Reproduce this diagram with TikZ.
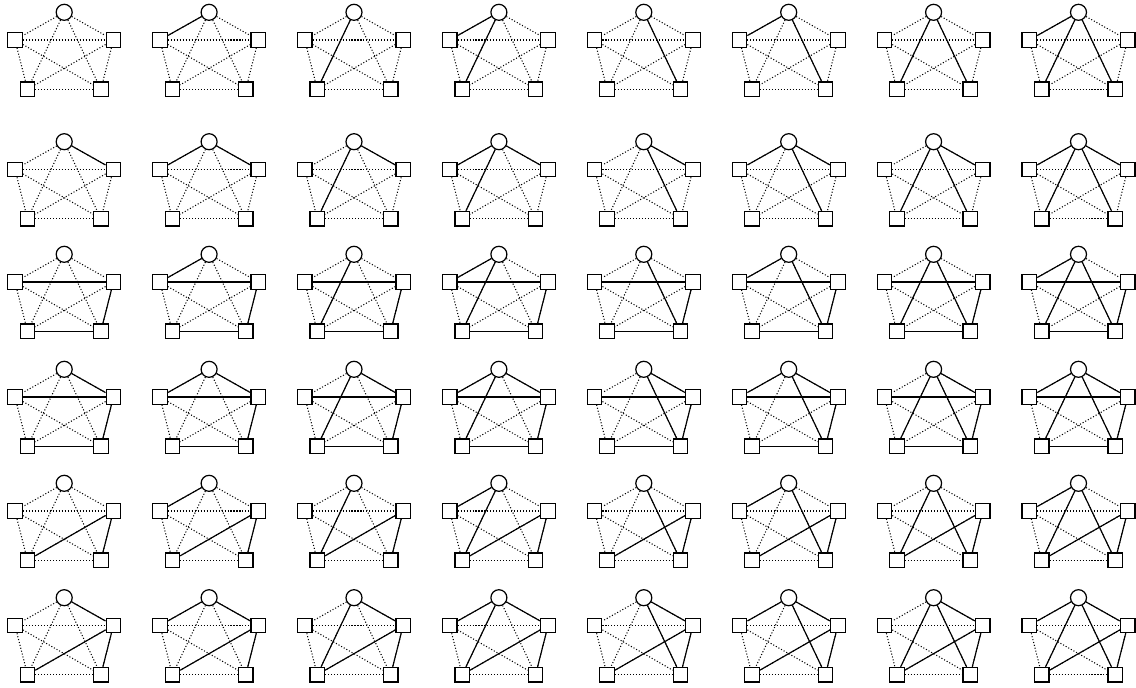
\documentclass[tikz,border=0pt]{standalone}
\usetikzlibrary{positioning}

\tikzset{
	hub/.style={shape=circle, draw, line width=0.7pt, minimum size=0.32cm, inner sep=0pt},
	port/.style={shape=rectangle, draw, line width=0.7pt, minimum size=0.29cm, inner sep=0pt},
	weak/.style={line width=0.6pt, dash pattern=on 0.6pt off 1.1pt},
	strong/.style={line width=0.65pt},
}

\begin{document}
\begin{tikzpicture}[x=0.02cm, y=-0.02cm]
	\useasboundingbox (0,0) rectangle (1136,687);
	\foreach \r/\ry in {0/12.3, 1/141.7, 2/254.3, 3/369.3, 4/483.3, 5/597.7}{
	\foreach \c in {0,...,7}{
	\begin{scope}[shift={(64.2+144.9*\c, \ry)}]
		\node[hub] (t-\c-\r) at (0, 0){};
		\node[port] (l-\c-\r) at (-49.2, 27.7){};
		\node[port] (r-\c-\r) at (49.2, 27.7){};
		\node[port] (bl-\c-\r) at (-36.7, 77){};
		\node[port] (br-\c-\r) at (36.7, 77){};
		% every pair dotted first
		\foreach \a/\b in {t/l, t/r, t/bl, t/br, l/r, l/bl, l/br, r/bl, r/br, bl/br}
			\draw[weak] (\a-\c-\r) -- (\b-\c-\r);
		% solid edges: column bits for the hub, row groups for the rest
		\pgfmathtruncatemacro\bitl{mod(\c,2)}
		\pgfmathtruncatemacro\bitbl{mod(int(\c/2),2)}
		\pgfmathtruncatemacro\bitbr{int(\c/4)}
		\pgfmathtruncatemacro\grp{int(\r/2)}
		\ifnum\bitl=1 \draw[strong] (t-\c-\r) -- (l-\c-\r); \fi
		\ifnum\bitbl=1 \draw[strong] (t-\c-\r) -- (bl-\c-\r); \fi
		\ifnum\bitbr=1 \draw[strong] (t-\c-\r) -- (br-\c-\r); \fi
		\ifodd\r \draw[strong] (t-\c-\r) -- (r-\c-\r); \fi
		\ifnum\grp=1
			\draw[strong] (l-\c-\r) -- (r-\c-\r);
			\draw[strong] (r-\c-\r) -- (br-\c-\r);
			\draw[strong] (bl-\c-\r) -- (br-\c-\r);
		\fi
		\ifnum\grp=2
			\draw[strong] (bl-\c-\r) -- (r-\c-\r);
			\draw[strong] (r-\c-\r) -- (br-\c-\r);
		\fi
	\end{scope}
	}}
\end{tikzpicture}
\end{document}
